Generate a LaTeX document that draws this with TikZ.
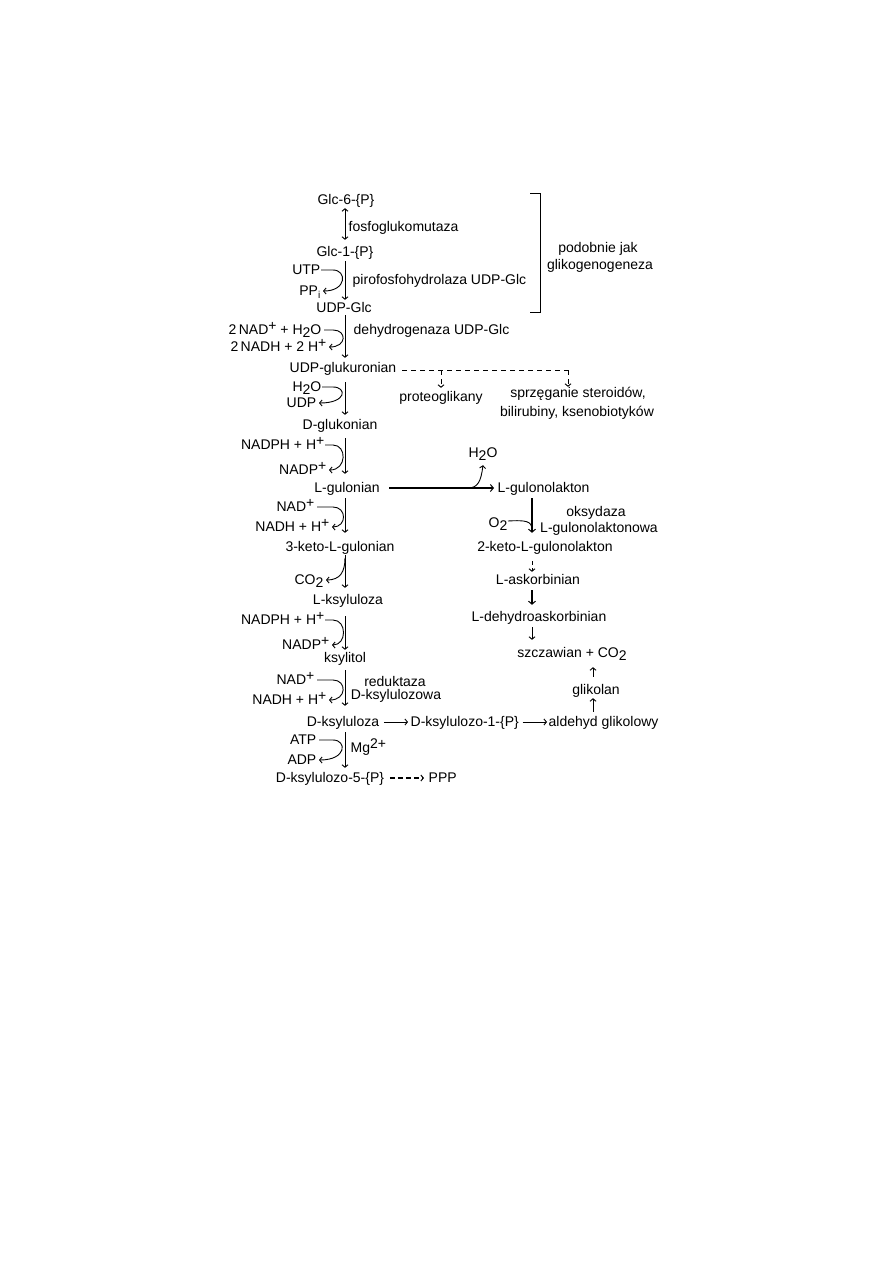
\documentclass[tikz,border=0pt]{standalone}
\usepackage{fontspec}
\setmainfont{Liberation Sans}
\usetikzlibrary{arrows.meta}
\newcommand\up[1]{\raisebox{4pt}{#1}}
\newcommand\dn[1]{\raisebox{-3pt}{#1}}
\begin{document}
\begin{tikzpicture}[x=1pt,y=-1pt,
  lbl/.style={inner sep=0.5pt,text height=10pt,text depth=1pt,font=\fontsize{14}{16}\selectfont},
  tip/.style={-{Straight Barb[length=2.5pt,width=6pt,line width=0.9pt]}},
  arr/.style={line width=0.9pt,tip},
  darr/.style={line width=0.9pt,{Straight Barb[length=2.5pt,width=6pt,line width=0.9pt]}-{Straight Barb[length=2.5pt,width=6pt,line width=0.9pt]}},
  tarr/.style={line width=1.8pt,-{Straight Barb[length=3pt,width=7pt,line width=1pt]}},
  dsh/.style={line width=0.9pt,dash pattern=on 5pt off 4pt},
  carr/.style={line width=0.9pt,tip},
  pln/.style={line width=0.9pt}]
\useasboundingbox (0,0) rectangle (893,1263);
\fill[white] (0,0) rectangle (893,1263);

% left column
\node[lbl] (glc6) at (346,200) {Glc-6-\{P\}};
\node[lbl] (glc1) at (345,252) {Glc-1-\{P\}};
\node[lbl,anchor=west] (fosfo) at (348,227) {fosfoglukomutaza};
\node[lbl,anchor=east] (utp) at (321,270) {UTP};
\node[lbl,anchor=east] (ppi) at (321,291) {PP\dn{\fontsize{10}{10}\selectfont i}};
\node[lbl,anchor=west] (piro) at (352,280) {pirofosfohydrolaza UDP-Glc};
\node[lbl] (udpglc) at (344,308) {UDP-Glc};
\node[lbl] (podob) at (598,248) {podobnie jak};
\node[lbl] (glikog) at (600,265) {glikogenogeneza};
\node[lbl,anchor=east] (nad1) at (322,330) {2\,NAD\up{+} + H\dn{2}O};
\node[lbl,anchor=east] (nadh1) at (327,347) {2\,NADH + 2 H\up{+}};
\node[lbl,anchor=west] (dehydro) at (353,330) {dehydrogenaza UDP-Glc};
\node[lbl] (udpgluk) at (343,368) {UDP-glukuronian};
\node[lbl] (proteo) at (441,397) {proteoglikany};
\node[lbl] (sprz) at (578,393) {sprzęganie steroidów,};
\node[lbl] (bilir) at (577,412) {bilirubiny, ksenobiotyków};
\node[lbl,anchor=east] (h2oa) at (322,387) {H\dn{2}O};
\node[lbl,anchor=east] (udp) at (317,403) {UDP};
\node[lbl] (dglukon) at (340,425) {D-glukonian};
\node[lbl,anchor=east] (nadpha) at (325,445) {NADPH + H\up{+}};
\node[lbl,anchor=east] (nadpa) at (327,470) {NADP\up{+}};
\node[lbl] (lgulonian) at (347,488) {L-gulonian};
\node[lbl,anchor=west] (lgulonolakton) at (497,488) {L-gulonolakton};
\node[lbl] (h2ob) at (483,453) {H\dn{2}O};
\node[lbl,anchor=east] (nada) at (315,507) {NAD\up{+}};
\node[lbl,anchor=east] (nadha) at (330,527) {NADH + H\up{+}};
\node[lbl] (keto3) at (340,547) {3-keto-L-gulonian};
\node[lbl,anchor=east] (o2) at (508,523) {O\dn{2}};
\node[lbl] (oksyd) at (596,512) {oksydaza};
\node[lbl] (lgulonowa) at (599,528) {L-gulonolaktonowa};
\node[lbl] (keto2) at (545,547) {2-keto-L-gulonolakton};
\node[lbl,anchor=east] (co2) at (324,580) {CO\dn{2}};
\node[lbl] (lksyl) at (348,600) {L-ksyluloza};
\node[lbl,anchor=east] (nadphb) at (325,620) {NADPH + H\up{+}};
\node[lbl,anchor=east] (nadpb) at (330,645) {NADP\up{+}};
\node[lbl] (ksylitol) at (345,658) {ksylitol};
\node[lbl] (askorb) at (538,580) {L-askorbinian};
\node[lbl] (dehydroask) at (539,617) {L-dehydroaskorbinian};
\node[lbl] (szcz) at (572,653) {szczawian + CO\dn{2}};
\node[lbl,anchor=east] (nadb) at (315,680) {NAD\up{+}};
\node[lbl,anchor=east] (nadhb) at (327,700) {NADH + H\up{+}};
\node[lbl] (redukt) at (395,682) {reduktaza};
\node[lbl] (dksylowa) at (396,695) {D-ksylulozowa};
\node[lbl] (glikolan) at (596,690) {glikolan};
\node[lbl] (dksyl) at (343,722) {D-ksyluloza};
\node[lbl,anchor=west] (dksyl1) at (410,722) {D-ksylulozo-1-\{P\}};
\node[lbl,anchor=west] (aldehyd) at (548,722) {aldehyd glikolowy};
\node[lbl,anchor=east] (atp) at (317,740) {ATP};
\node[lbl,anchor=east] (adp) at (317,760) {ADP};
\node[lbl,anchor=west] (mg) at (350,748) {Mg\up{2+}};
\node[lbl] (dksyl5) at (330,778) {D-ksylulozo-5-\{P\}};
\node[lbl,anchor=west] (ppp) at (428,778) {PPP};

% helper coordinates
\coordinate (mx) at (345,0);
\coordinate (rx) at (532,0);
\coordinate (ux) at (593,0);
\coordinate (cx) at (333,0);
\coordinate (cc) at (347,0);

% main vertical arrows
\draw[darr,shorten <=2pt,shorten >=6pt] (glc6.south -| mx) -- (glc1.north -| mx);
\draw[arr,shorten <=3pt,shorten >=2pt] (glc1.south -| mx) -- (udpglc.north -| mx);
\draw[arr,shorten <=1pt,shorten >=4pt] (udpglc.south -| mx) -- (udpgluk.north -| mx);
\draw[arr,shorten <=8pt,shorten >=4pt] (udpgluk.south -| mx) -- (dglukon.north -| mx);
\draw[arr,shorten <=7pt,shorten >=8pt] (dglukon.south -| mx) -- (lgulonian.north -| mx);
\draw[arr,shorten <=4pt,shorten >=8pt] (lgulonian.south -| mx) -- (keto3.north -| mx);
\draw[arr,shorten <=2pt,shorten >=6pt] (keto3.south -| mx) -- (lksyl.north -| mx);
\draw[arr,shorten <=10pt,shorten >=2pt] (lksyl.south -| mx) -- (ksylitol.north -| mx);
\draw[arr,shorten <=6pt,shorten >=10pt] (ksylitol.south -| mx) -- (dksyl.north -| mx);
\draw[arr,shorten <=4pt,shorten >=4pt] (dksyl.south -| mx) -- (dksyl5.north -| mx);

% cofactor curves
\draw[carr] (utp.east) -- (utp.east -| cx) .. controls (utp.east -| cc) and (ppi.east -| cc) .. ([xshift=2pt]ppi.east);
\draw[carr] ([xshift=2pt]nad1.east) -- (nad1.east -| cx) .. controls (nad1.east -| cc) and (nadh1.east -| cc) .. ([xshift=2pt]nadh1.east);
\draw[carr] (h2oa.east) -- (h2oa.east -| cx) .. controls (h2oa.east -| cc) and (udp.east -| cc) .. ([xshift=2pt]udp.east);
\draw[carr] (nadpha.east) -- (nadpha.east -| cx) .. controls (nadpha.east -| cc) and (nadpa.east -| cc) .. ([xshift=2pt]nadpa.east);
\draw[carr] ([xshift=2pt]nada.east) -- (nada.east -| cx) .. controls (nada.east -| cc) and (nadha.east -| cc) .. ([xshift=2pt]nadha.east);
\draw[carr] (nadphb.east) -- (nadphb.east -| cx) .. controls (nadphb.east -| cc) and (nadpb.east -| cc) .. ([xshift=2pt]nadpb.east);
\draw[carr] ([xshift=2pt]nadb.east) -- (nadb.east -| cx) .. controls (nadb.east -| cc) and (nadhb.east -| cc) .. ([xshift=2pt]nadhb.east);
\draw[carr] ([xshift=2pt]atp.east) -- (atp.east -| cx) .. controls (atp.east -| cc) and (adp.east -| cc) .. ([xshift=2pt]adp.east);
\coordinate (co2b) at (345,558);
\draw[carr] (co2b) .. controls (345,572) and (340,580) .. ([xshift=2pt]co2.east);

% bracket
\draw[pln] (530,193) -- (540,193) -- (540,312) -- (530,312);

% dashed branches from UDP-glukuronian
\coordinate (br1) at (441,370);
\coordinate (br2) at (568,370);
\draw[dsh,shorten <=5pt] (udpgluk.east |- br2) -- (br2);
\draw[dsh,tip,shorten >=3pt] (br1) -- (br1 |- proteo.north);
\draw[dsh,tip] (br2) -- (br2 |- sprz.north);

% L-gulonian -> L-gulonolakton
\draw[tarr,shorten <=9pt,shorten >=3pt] (lgulonian.east) -- (lgulonolakton.west);
\coordinate (hb) at (468,488);
\draw[carr] (hb) .. controls (478,488) and (481,481) .. ([yshift=-6pt]h2ob.south);

% right column
\draw[tarr,shorten <=4pt,shorten >=8pt] (lgulonolakton.south -| rx) -- (keto2.north -| rx);
\coordinate (o2j) at (532,530);
\draw[pln] ([yshift=2pt]o2.east) .. controls (526,520) and (532,521) .. (o2j);
\draw[dsh,tip,dash pattern=on 4pt off 3pt,shorten <=8pt,shorten >=2pt] (keto2.south -| rx) -- (askorb.north -| rx);
\draw[tarr,shorten <=4pt,shorten >=6pt] (askorb.south -| rx) -- (dehydroask.north -| rx);
\draw[arr,shorten <=4pt,shorten >=7pt] (dehydroask.south -| rx) -- (szcz.north -| rx);
\draw[arr,shorten <=4pt,shorten >=2pt] (aldehyd.north -| ux) -- (glikolan.south -| ux);
\draw[arr,shorten <=7pt,shorten >=8pt] (glikolan.north -| ux) -- (szcz.south -| ux);

% bottom row
\draw[arr,shorten <=4pt,shorten >=2pt] (dksyl.east) -- (dksyl1.west);
\draw[arr,shorten <=3pt,shorten >=1pt] (dksyl1.east) -- (aldehyd.west);
\draw[line width=1.8pt,dash pattern=on 5pt off 3pt,-{Straight Barb[length=2.5pt,width=6pt,line width=1pt]},shorten <=5pt,shorten >=4pt] (dksyl5.east) -- (ppp.west);
\end{tikzpicture}
\end{document}
